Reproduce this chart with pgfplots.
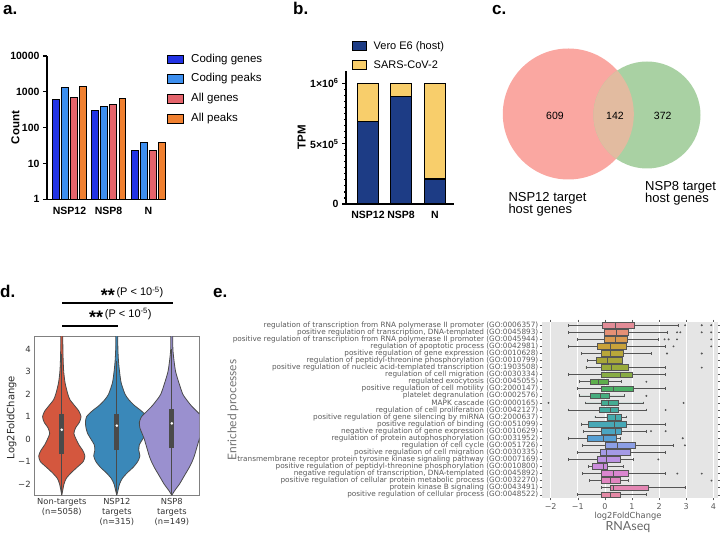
\documentclass[border=0pt]{standalone}
\usepackage{pgfplots}
\pgfplotsset{compat=1.18}
\usepackage{pgfplotstable}
\usepgfplotslibrary{statistics}
\usepackage{fontspec}
\setmainfont{Liberation Sans}
\newfontfamily\dejavu{DejaVu Sans}
\newfontfamily\lato{Lato}

\definecolor{cgenes}{HTML}{2233E4}
\definecolor{cpeaks}{HTML}{3D8FEF}
\definecolor{agenes}{HTML}{E4646B}
\definecolor{apeaks}{HTML}{F08030}
\definecolor{navy}{HTML}{1D3C85}
\definecolor{sars}{HTML}{F8CE6B}
\definecolor{vnred}{HTML}{FAA7A1}
\definecolor{vngreen}{HTML}{A9D1A3}
\definecolor{vnmix}{HTML}{E2BBA0}
\definecolor{vred}{HTML}{D4573E}
\definecolor{vblue}{HTML}{3A88B9}
\definecolor{vpurple}{HTML}{9A90CF}
\definecolor{vedge}{HTML}{4A4A4A}
\definecolor{egray}{HTML}{5A5A5A}
\definecolor{bxedge}{HTML}{555555}
\definecolor{e1}{HTML}{E38C97}
\definecolor{e2}{HTML}{E59075}
\definecolor{e3}{HTML}{D99A50}
\definecolor{e4}{HTML}{C9A23A}
\definecolor{e5}{HTML}{B9A73A}
\definecolor{e6}{HTML}{A8A63A}
\definecolor{e7}{HTML}{99AA3A}
\definecolor{e8}{HTML}{88AC44}
\definecolor{e9}{HTML}{5EAF4C}
\definecolor{e10}{HTML}{4BB065}
\definecolor{e11}{HTML}{47AD7F}
\definecolor{e12}{HTML}{45AC93}
\definecolor{e13}{HTML}{45ABA1}
\definecolor{e14}{HTML}{45AAAB}
\definecolor{e15}{HTML}{47A8B6}
\definecolor{e16}{HTML}{4AA5C2}
\definecolor{e17}{HTML}{57A0D4}
\definecolor{e18}{HTML}{8C9FE5}
\definecolor{e19}{HTML}{A49AE6}
\definecolor{e20}{HTML}{BB92E2}
\definecolor{e21}{HTML}{CB8CDD}
\definecolor{e22}{HTML}{DA86D0}
\definecolor{e23}{HTML}{E185C0}
\definecolor{e24}{HTML}{E386B3}
\definecolor{e25}{HTML}{E489A5}

\pgfplotstableread{
v w
-2.5 0
-2.3 0.015
-2.0 0.04
-1.75 0.08
-1.5 0.17
-1.25 0.28
-1.0 0.39
-0.75 0.42
-0.5 0.38
-0.25 0.31
0 0.26
0.25 0.22
0.5 0.25
0.75 0.32
1.0 0.35
1.25 0.31
1.5 0.23
1.75 0.15
2.0 0.11
2.5 0.06
3.0 0.035
3.5 0.025
4.0 0.02
4.7 0.015
4.7 -0.015
4.0 -0.02
3.5 -0.025
3.0 -0.035
2.5 -0.06
2.0 -0.11
1.75 -0.15
1.5 -0.23
1.25 -0.31
1.0 -0.35
0.75 -0.32
0.5 -0.25
0.25 -0.22
0 -0.26
-0.25 -0.31
-0.5 -0.38
-0.75 -0.42
-1.0 -0.39
-1.25 -0.28
-1.5 -0.17
-1.75 -0.08
-2.0 -0.04
-2.3 -0.015
-2.5 0
}\violinNT

\pgfplotstableread{
v w
-2.5 0
-2.3 0.02
-2.0 0.05
-1.75 0.1
-1.5 0.19
-1.25 0.3
-1.0 0.38
-0.75 0.42
-0.5 0.40
-0.25 0.41
0 0.47
0.25 0.53
0.5 0.56
0.75 0.57
1.0 0.55
1.25 0.45
1.5 0.32
1.75 0.22
2.0 0.15
2.5 0.08
3.0 0.05
3.5 0.03
4.0 0.02
4.7 0.015
4.7 -0.015
4.0 -0.02
3.5 -0.03
3.0 -0.05
2.5 -0.08
2.0 -0.15
1.75 -0.22
1.5 -0.32
1.25 -0.45
1.0 -0.55
0.75 -0.57
0.5 -0.56
0.25 -0.53
0 -0.47
-0.25 -0.41
-0.5 -0.40
-0.75 -0.42
-1.0 -0.38
-1.25 -0.3
-1.5 -0.19
-1.75 -0.1
-2.0 -0.05
-2.3 -0.02
-2.5 0
}\violinA

\pgfplotstableread{
v w
-2.5 0
-2.3 0.05
-2.0 0.14
-1.75 0.2
-1.5 0.26
-1.25 0.32
-1.0 0.37
-0.75 0.41
-0.5 0.44
-0.25 0.47
0 0.5
0.25 0.54
0.5 0.58
0.75 0.59
1.0 0.55
1.25 0.45
1.5 0.35
1.75 0.27
2.0 0.2
2.5 0.13
3.0 0.07
3.5 0.04
4.0 0.02
4.7 0.015
4.7 -0.015
4.0 -0.02
3.5 -0.04
3.0 -0.07
2.5 -0.13
2.0 -0.2
1.75 -0.27
1.5 -0.35
1.25 -0.45
1.0 -0.55
0.75 -0.59
0.5 -0.58
0.25 -0.54
0 -0.5
-0.25 -0.47
-0.5 -0.44
-0.75 -0.41
-1.0 -0.37
-1.25 -0.32
-1.5 -0.26
-1.75 -0.2
-2.0 -0.14
-2.3 -0.05
-2.5 0
}\violinB

\begin{document}
\begin{tikzpicture}[x=1pt,y=1pt]
\path[use as bounding box] (0,0) rectangle (720,535);

% panel labels
\node[anchor=base west, font=\bfseries\fontsize{17}{17}\selectfont, inner sep=0] at (3,520) {a.};
\node[anchor=base west, font=\bfseries\fontsize{17}{17}\selectfont, inner sep=0] at (293,520) {b.};
\node[anchor=base west, font=\bfseries\fontsize{17}{17}\selectfont, inner sep=0] at (492,520) {c.};
\node[anchor=base west, font=\bfseries\fontsize{17}{17}\selectfont, inner sep=0] at (0,237) {d.};
\node[anchor=base west, font=\bfseries\fontsize{17}{17}\selectfont, inner sep=0] at (213,237) {e.};

% ---------------- panel a ----------------
\begin{axis}[
  at={(47pt,335.7pt)}, anchor=south west,
  scale only axis, width=119pt, height=143.3pt,
  xmin=47, xmax=166, ymode=log, ymin=1, ymax=10000,
  axis x line*=bottom, axis y line*=left,
  axis line style={line width=1.2pt, black},
  xtick={69.5,108.5,148.3}, xticklabels={NSP12,NSP8,N},
  xtick style={draw=none},
  ytick={1,10,100,1000,10000}, yticklabels={1,10,100,1000,10000},
  yminorticks=false,
  ytick style={line width=1.2pt, black}, tick align=outside, major tick length=4pt,
  ticklabel style={font=\bfseries\fontsize{10.5}{11}\selectfont},
  ylabel={Count},
  every axis y label/.style={at={(axis description cs:-0.265,0.5)}, rotate=90, anchor=center, font=\bfseries\fontsize{11.5}{12}\selectfont},
  every axis plot/.append style={ybar, bar width=6.6pt, bar shift=0pt, draw=black, line width=1pt},
]
\addplot[fill=cgenes] coordinates {(56,617) (95,298) (134.7,22.8)};
\addplot[fill=cpeaks] coordinates {(65.2,1279) (104,385) (143.8,37.3)};
\addplot[fill=agenes] coordinates {(74,673) (113.2,438) (152.8,22.8)};
\addplot[fill=apeaks] coordinates {(83,1394) (122.3,631) (161.8,37.3)};
\end{axis}
% legend a
\foreach \yc/\cc/\tt in {475.7/cgenes/Coding genes, 456/cpeaks/Coding peaks, 436/agenes/All genes, 416/apeaks/All peaks}{
  \filldraw[fill=\cc, draw=black, line width=1pt] (167,\yc-4.2) rectangle (183,\yc+4.2);
  \node[anchor=west, font=\fontsize{11.5}{12}\selectfont, inner sep=0] at (191,\yc) {\tt};
}

% ---------------- panel b ----------------
\begin{axis}[
  at={(346pt,331pt)}, anchor=south west,
  scale only axis, width=108pt, height=133.3pt,
  xmin=346, xmax=454, ymin=0, ymax=1104000,
  axis x line*=bottom, axis y line*=left,
  axis line style={line width=1.2pt, black},
  xtick={368,401,435}, xticklabels={NSP12,NSP8,N}, xtick style={draw=none},
  ytick={0,500000,1000000}, yticklabels={0,5×10\textsuperscript{5},1×10\textsuperscript{6}},
  scaled y ticks=false,
  minor y tick num=9,
  ytick style={line width=1.2pt, black}, minor tick length=2pt,
  tick align=outside, major tick length=4pt,
  ticklabel style={font=\bfseries\fontsize{10.5}{11}\selectfont},
  ylabel={TPM},
  every axis y label/.style={at={(axis description cs:-0.41,0.5)}, rotate=90, anchor=center, font=\bfseries\fontsize{11.5}{12}\selectfont},
  ybar stacked, bar width=21.5pt,
  every axis plot/.append style={draw=black, line width=1.2pt},
]
\addplot[fill=navy] coordinates {(368,685000) (401,890000) (435,207000)};
\addplot[fill=sars] coordinates {(368,315000) (401,110000) (435,793000)};
\end{axis}
\filldraw[fill=navy, draw=black, line width=1pt] (352.7,484.5) rectangle (366.7,493.2);
\node[anchor=west, font=\fontsize{11}{12}\selectfont, inner sep=0] at (373.5,488.8) {Vero E6 (host)};
\filldraw[fill=sars, draw=black, line width=1pt] (352.7,465.5) rectangle (366.7,474.2);
\node[anchor=west, font=\fontsize{11}{12}\selectfont, inner sep=0] at (373.5,469.8) {SARS-CoV-2};

% ---------------- panel c (Venn) ----------------
\fill[vnred] (568.3,421) circle[radius=65.5];
\fill[vngreen] (647,420) circle[radius=53.5];
\begin{scope}
  \clip (568.3,421) circle[radius=65.5];
  \fill[vnmix] (647,420) circle[radius=53.5];
\end{scope}
\node[font=\fontsize{10.5}{11}\selectfont] at (555,419) {609};
\node[font=\fontsize{10.5}{11}\selectfont] at (615,419) {142};
\node[font=\fontsize{10.5}{11}\selectfont] at (662.7,419) {372};
\node[anchor=base west, font=\fontsize{13}{13}\selectfont, inner sep=0] at (508.3,333.3) {NSP12 target};
\node[anchor=base west, font=\fontsize{13}{13}\selectfont, inner sep=0] at (508.3,321.5) {host genes};
\node[anchor=base west, font=\fontsize{13}{13}\selectfont, inner sep=0] at (645,344.3) {NSP8 target};
\node[anchor=base west, font=\fontsize{13}{13}\selectfont, inner sep=0] at (645,332.5) {host genes};

% ---------------- panel d ----------------
\begin{axis}[
  at={(34.3pt,39.7pt)}, anchor=south west,
  scale only axis, width=165pt, height=158.6pt,
  xmin=-0.5, xmax=2.5, ymin=-2.5, ymax=4.56,
  axis line style={line width=1pt, draw=gray},
  xtick={0,1,2},
  xticklabels={{Non-targets\\(n=5058)},{NSP12\\targets\\(n=315)},{NSP8\\targets\\(n=149)}},
  xticklabel style={align=center, font=\dejavu\fontsize{8.3}{9.6}\selectfont, text=black!80},
  ytick={-2,-1,0,1,2,3,4}, yticklabels={−2,−1,0,1,2,3,4},
  yticklabel style={font=\dejavu\fontsize{8.5}{9}\selectfont, text=black!80},
  major tick length=0pt,
  ylabel={Log2FoldChange},
  every axis y label/.style={at={(axis description cs:-0.137,0.49)}, rotate=90, anchor=center, font=\dejavu\fontsize{10}{11}\selectfont, text=black!85},
]
\addplot[fill=vred, draw=vedge, line width=0.8pt, smooth, tension=0.4] table[x expr=\thisrow{w}, y=v] {\violinNT};
\addplot[fill=vblue, draw=vedge, line width=0.8pt, smooth, tension=0.4] table[x expr=1+\thisrow{w}, y=v] {\violinA};
\addplot[fill=vpurple, draw=vedge, line width=0.8pt, smooth, tension=0.4] table[x expr=2+\thisrow{w}, y=v] {\violinB};
% inner boxes
\addplot[draw=vedge, line width=1pt] coordinates {(0,-2.5) (0,3.8)};
\addplot[draw=vedge, line width=1pt] coordinates {(1,-2.5) (1,3.5)};
\addplot[draw=vedge, line width=1pt] coordinates {(2,-2.5) (2,4.0)};
\addplot[draw=vedge, line width=4.6pt] coordinates {(0,-0.68) (0,1.1)};
\addplot[draw=vedge, line width=4.6pt] coordinates {(1,-0.5) (1,1.1)};
\addplot[draw=vedge, line width=4.6pt] coordinates {(2,-0.4) (2,1.35)};
\addplot[only marks, mark=*, mark size=1.1pt, draw=white, fill=white] coordinates {(0,0.42) (1,0.6) (2,0.7)};
\end{axis}
% significance bars
\draw[line width=2pt] (62.3,209) -- (118.3,209);
\draw[line width=2pt] (62.3,231.7) -- (173.3,231.7);
\node[anchor=base west, inner sep=0] at (89,217.7) {{\bfseries\fontsize{18}{18}\selectfont\raisebox{-6pt}{**}}\,{\fontsize{11}{12}\selectfont (P < 10\textsuperscript{-5})}};
\node[anchor=base west, inner sep=0] at (100.7,239) {{\bfseries\fontsize{18}{18}\selectfont\raisebox{-6pt}{**}}\,{\fontsize{11}{12}\selectfont (P < 10\textsuperscript{-5})}};

% ---------------- panel e ----------------
\begin{axis}[
  at={(541.7pt,36.7pt)}, anchor=south west,
  scale only axis, width=176.3pt, height=176.6pt,
  xmin=-2.33, xmax=4.17, ymin=-0.5, ymax=24.5, y dir=reverse,
  axis line style={draw=none},
  axis background/.style={fill=black!10},
  xmajorgrids, grid style={white, line width=0.8pt},
  boxplot/draw direction=x,
  xtick={-2,-1,0,1,2,3,4}, xticklabels={−2,−1,0,1,2,3,4},
  xticklabel style={font=\dejavu\fontsize{8}{9}\selectfont, text=egray},
  ytick={0,...,24},
  yticklabels={
    regulation of transcription from RNA polymerase II promoter (GO:0006357),
    {positive regulation of transcription, DNA-templated (GO:0045893)},
    positive regulation of transcription from RNA polymerase II promoter (GO:0045944),
    regulation of apoptotic process (GO:0042981),
    positive regulation of gene expression (GO:0010628),
    regulation of peptidyl-threonine phosphorylation (GO:0010799),
    positive regulation of nucleic acid-templated transcription (GO:1903508),
    regulation of cell migration (GO:0030334),
    regulated exocytosis (GO:0045055),
    positive regulation of cell motility (GO:2000147),
    platelet degranulation (GO:0002576),
    MAPK cascade (GO:0000165),
    regulation of cell proliferation (GO:0042127),
    positive regulation of gene silencing by miRNA (GO:2000637),
    positive regulation of binding (GO:0051099),
    negative regulation of gene expression (GO:0010629),
    regulation of protein autophosphorylation (GO:0031952),
    regulation of cell cycle (GO:0051726),
    positive regulation of cell migration (GO:0030335),
    transmembrane receptor protein tyrosine kinase signaling pathway (GO:0007169),
    positive regulation of peptidyl-threonine phosphorylation (GO:0010800),
    {negative regulation of transcription, DNA-templated (GO:0045892)},
    positive regulation of cellular protein metabolic process (GO:0032270),
    protein kinase B signaling (GO:0043491),
    positive regulation of cellular process (GO:0048522)},
  yticklabel style={font=\dejavu\fontsize{7.3}{7.5}\selectfont, text=egray, inner sep=1.2pt},
  tick style={color=egray, line width=0.5pt}, tick align=outside, major tick length=2pt,
  every axis plot/.append style={draw=bxedge, line width=0.7pt, boxplot/box extend=0.8, boxplot/whisker extend=0.4},
]
\addplot[fill=e1, boxplot prepared={draw position=0, lower whisker=-1.35, lower quartile=-0.1, median=0.37, upper quartile=1.1, upper whisker=2.69}] coordinates {};
\addplot[fill=e2, boxplot prepared={draw position=1, lower whisker=-1.35, lower quartile=-0.03, median=0.43, upper quartile=0.87, upper whisker=2.3}] coordinates {};
\addplot[fill=e3, boxplot prepared={draw position=2, lower whisker=-1.0, lower quartile=-0.03, median=0.37, upper quartile=0.83, upper whisker=1.96}] coordinates {};
\addplot[fill=e4, boxplot prepared={draw position=3, lower whisker=-1.35, lower quartile=-0.28, median=0.19, upper quartile=0.8, upper whisker=2.24}] coordinates {};
\addplot[fill=e5, boxplot prepared={draw position=4, lower whisker=-0.86, lower quartile=-0.12, median=0.19, upper quartile=0.68, upper whisker=1.72}] coordinates {};
\addplot[fill=e6, boxplot prepared={draw position=5, lower whisker=-0.63, lower quartile=-0.33, median=0.09, upper quartile=0.66, upper whisker=0.66}] coordinates {};
\addplot[fill=e7, boxplot prepared={draw position=6, lower whisker=-0.7, lower quartile=-0.12, median=0.25, upper quartile=0.87, upper whisker=2.24}] coordinates {};
\addplot[fill=e8, boxplot prepared={draw position=7, lower whisker=-1.35, lower quartile=-0.12, median=0.56, upper quartile=1.02, upper whisker=2.24}] coordinates {};
\addplot[fill=e9, boxplot prepared={draw position=8, lower whisker=-0.95, lower quartile=-0.55, median=-0.24, upper quartile=0.14, upper whisker=0.62}] coordinates {};
\addplot[fill=e10, boxplot prepared={draw position=9, lower whisker=-1.0, lower quartile=-0.12, median=0.31, upper quartile=1.05, upper whisker=2.24}] coordinates {};
\addplot[fill=e11, boxplot prepared={draw position=10, lower whisker=-0.95, lower quartile=-0.52, median=-0.18, upper quartile=0.16, upper whisker=0.72}] coordinates {};
\addplot[fill=e12, boxplot prepared={draw position=11, lower whisker=-0.71, lower quartile=-0.12, median=0.13, upper quartile=0.5, upper whisker=1.41}] coordinates {};
\addplot[fill=e13, boxplot prepared={draw position=12, lower whisker=-1.35, lower quartile=-0.2, median=0.19, upper quartile=0.5, upper whisker=1.54}] coordinates {};
\addplot[fill=e14, boxplot prepared={draw position=13, lower whisker=-0.37, lower quartile=0.09, median=0.37, upper quartile=0.62, upper whisker=0.8}] coordinates {};
\addplot[fill=e15, boxplot prepared={draw position=14, lower whisker=-0.86, lower quartile=-0.61, median=0.33, upper quartile=0.78, upper whisker=2.24}] coordinates {};
\addplot[fill=e16, boxplot prepared={draw position=15, lower whisker=-0.8, lower quartile=-0.12, median=0.37, upper quartile=0.62, upper whisker=1.54}] coordinates {};
\addplot[fill=e17, boxplot prepared={draw position=16, lower whisker=-1.35, lower quartile=-0.65, median=-0.05, upper quartile=0.43, upper whisker=0.58}] coordinates {};
\addplot[fill=e18, boxplot prepared={draw position=17, lower whisker=-0.82, lower quartile=0.0, median=0.45, upper quartile=1.11, upper whisker=2.52}] coordinates {};
\addplot[fill=e19, boxplot prepared={draw position=18, lower whisker=-1.0, lower quartile=-0.15, median=0.06, upper quartile=0.93, upper whisker=2.24}] coordinates {};
\addplot[fill=e20, boxplot prepared={draw position=19, lower whisker=-1.35, lower quartile=-0.28, median=0.04, upper quartile=0.58, upper whisker=1.05}] coordinates {};
\addplot[fill=e21, boxplot prepared={draw position=20, lower whisker=-0.62, lower quartile=-0.45, median=-0.05, upper quartile=0.1, upper whisker=0.68}] coordinates {};
\addplot[fill=e22, boxplot prepared={draw position=21, lower whisker=-0.82, lower quartile=-0.12, median=0.31, upper quartile=0.87, upper whisker=2.24}] coordinates {};
\addplot[fill=e23, boxplot prepared={draw position=22, lower whisker=-0.57, lower quartile=-0.12, median=0.19, upper quartile=0.58, upper whisker=0.87}] coordinates {};
\addplot[fill=e24, boxplot prepared={draw position=23, lower whisker=-0.12, lower quartile=0.19, median=0.31, upper quartile=1.6, upper whisker=2.95}] coordinates {};
\addplot[fill=e25, boxplot prepared={draw position=24, lower whisker=-1.0, lower quartile=-0.12, median=0.19, upper quartile=0.58, upper whisker=1.54}] coordinates {};
% outliers
\addplot[only marks, mark=*, mark size=0.55pt, draw=none, fill=egray] coordinates {
 (2.96,0) (3.57,0) (3.92,0)
 (2.66,1) (2.78,1) (3.57,1) (3.92,1)
 (2.2,2) (2.35,2) (2.66,2) (3.92,2)
 (2.53,3) (3.92,3)
 (2.29,4) (3.57,4)
 (3.57,6)
 (1.53,8)
 (1.53,10)
 (-2.08,11) (2.9,11)
 (2.24,12)
 (1.7,15) (2.24,15)
 (2.87,16)
 (2.95,17)
 (1.97,19)
 (2.67,21) (3.57,21)
 (3.93,22)
};
\end{axis}
\node[font=\dejavu\fontsize{8.3}{9}\selectfont, text=egray] at (628,19) {log2FoldChange};
\node[font=\lato\fontsize{12.5}{13}\selectfont, text=black!60] at (628,8) {RNAseq};
\node[rotate=90, font=\lato\fontsize{12}{13}\selectfont, text=black!55] at (233,125) {Enriched processes};
\end{tikzpicture}
\end{document}
